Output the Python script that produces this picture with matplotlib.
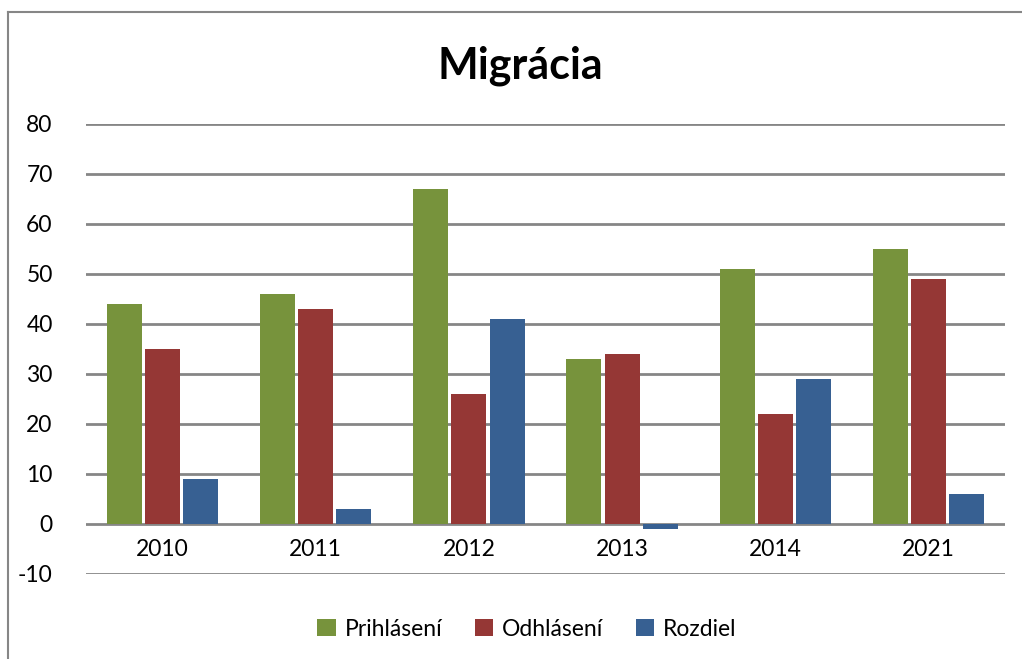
import matplotlib
matplotlib.use("Agg")
import matplotlib.pyplot as plt
import numpy as np
from matplotlib.lines import Line2D
from matplotlib.patches import Patch

years = ["2010", "2011", "2012", "2013", "2014", "2021"]
prihlaseni = [44, 46, 67, 33, 51, 55]
odhlaseni = [35, 43, 26, 34, 22, 49]
rozdiel = [9, 3, 41, -1, 29, 6]
series_names = ["Prihlásení", "Odhlásení", "Rozdiel"]
colors = ["#77933C", "#953735", "#376092"]
yticks = [-10, 0, 10, 20, 30, 40, 50, 60, 70, 80]

plt.rcParams['font.family'] = ['Lato', 'DejaVu Sans']

W, H = 1022, 659
fig = plt.figure(figsize=(W / 100, H / 100), dpi=100)
ax = fig.add_axes([86 / W, 1 - 574 / H, (1005 - 86) / W, (574 - 124) / H])

x = np.arange(len(years))
bw = 0.229
step = 0.249
for i, (vals, c, name) in enumerate(zip([prihlaseni, odhlaseni, rozdiel], colors, series_names)):
    ax.bar(x + (i - 1) * step, vals, width=bw, color=c, label=name, zorder=3)

ax.set_xlim(-0.5, len(years) - 0.5)
ax.set_ylim(-10, 80)
ax.set_yticks(yticks)
ax.set_yticklabels([str(v) for v in yticks], fontsize=16.5)
ax.tick_params(axis='y', length=0, pad=24)
ax.set_xticks([])
ax.grid(axis='y', color='#868686', linewidth=2, zorder=1)
for s in ax.spines.values():
    s.set_visible(False)

for xi, lab in zip(x, years):
    ax.text(xi, -5.2, lab, ha='center', va='center', fontsize=16.5)

fig.text(520 / W, 1 - 66 / H, "Migrácia", fontsize=31, fontweight='bold',
         ha='center', va='center')

handles = [Patch(facecolor=c, label=n) for c, n in zip(colors, series_names)]
fig.legend(handles=handles, loc='center', bbox_to_anchor=(527 / W, 1 - 629 / H),
           ncol=3, frameon=False, fontsize=16.5, handlelength=0.8, handleheight=0.8,
           handletextpad=0.4, columnspacing=1.4)

fig.add_artist(Line2D([8 / W, 8 / W], [0, 1 - 12 / H], transform=fig.transFigure,
                      color='#868686', linewidth=1.5))
fig.add_artist(Line2D([8 / W, 1], [1 - 12 / H, 1 - 12 / H], transform=fig.transFigure,
                      color='#868686', linewidth=1.5))

fig.savefig("out.png", dpi=100)
